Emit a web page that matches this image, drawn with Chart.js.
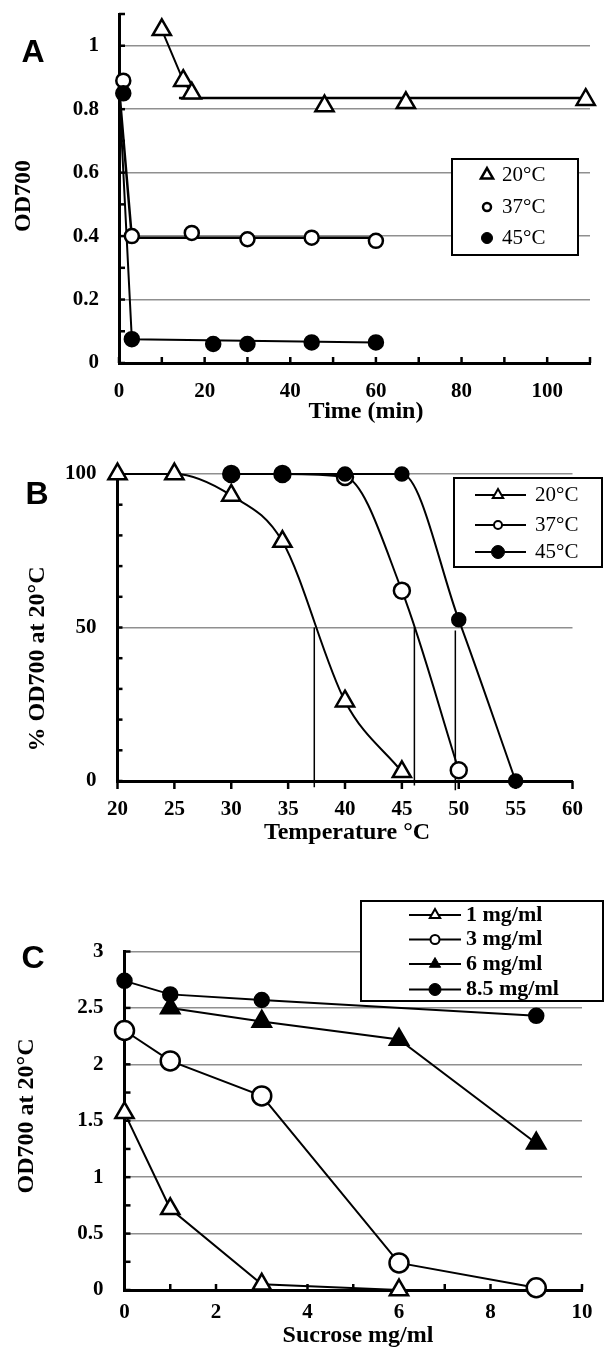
<!DOCTYPE html>
<html>
<head>
<meta charset="utf-8">
<script src="https://cdn.jsdelivr.net/npm/chart.js@4.4.1/dist/chart.umd.min.js"></script>
<style>
  html, body { margin: 0; padding: 0; background: #fff; }
  #page { position: relative; width: 604px; height: 1357px; overflow: hidden; }
  canvas { position: absolute; left: 0; }
</style>
</head>
<body>
<div id="page">
  <canvas id="chartA" width="604" height="430" style="top:0px"></canvas>
  <canvas id="chartB" width="604" height="440" style="top:430px"></canvas>
  <canvas id="chartC" width="604" height="487" style="top:870px"></canvas>
</div>
<script>
// ---------- Panel A: OD700 vs time ----------
const timeA20 = [10, 15, 17, 48, 67, 109];
const odA20 = [1.05, 0.89, 0.85, 0.81, 0.82, 0.83];
const timeA37 = [1, 3, 17, 30, 45, 60];
const odA37 = [0.89, 0.40, 0.41, 0.39, 0.395, 0.385];
const timeA45 = [1, 3, 22, 30, 45, 60];
const odA45 = [0.85, 0.075, 0.06, 0.06, 0.065, 0.065];
// hand drawn guide lines
const fitA20X = [14, 110];
const fitA20Y = [0.835, 0.835];
const fitA37X = [0, 3, 60];
const fitA37Y = [0.87, 0.395, 0.395];
const fitA45X = [0, 3, 60];
const fitA45Y = [0.87, 0.075, 0.065];
const xTicksA = [0, 20, 40, 60, 80, 100];
const xLabelsA = ['0', '20', '40', '60', '80', '100'];
const yTicksA = [0, 0.2, 0.4, 0.6, 0.8, 1];
const yLabelsA = ['0', '0.2', '0.4', '0.6', '0.8', '1'];
const legendA = ['20°C', '37°C', '45°C'];

// ---------- Panel B: % OD700 vs temperature ----------
const tempB20 = [20, 25, 30, 34.5, 40, 45];
const pctB20 = [100, 100, 93, 78, 26, 3];
const tempB37 = [30, 34.5, 40, 45, 50];
const pctB37 = [100, 100, 99, 62, 3.5];
const tempB45 = [30, 34.5, 40, 45, 50, 55];
const pctB45 = [100, 100, 100, 100, 52.5, 0];
// temperatures where each curve crosses 50 %
const halfTempB = [37.3, 46.1, 49.7];
const halfTopB = [50, 50, 49];
const halfBottomB = [-2, -1.5, -3];
const xTicksB = [20, 25, 30, 35, 40, 45, 50, 55, 60];
const xLabelsB = ['20', '25', '30', '35', '40', '45', '50', '55', '60'];
const yTicksB = [0, 50, 100];
const yLabelsB = ['0', '50', '100'];
const legendB = ['20°C', '37°C', '45°C'];

// ---------- Panel C: OD700 vs sucrose ----------
const sucroseC = [0, 1, 3, 6, 9];
const odC1 = [1.57, 0.72, 0.05, 0.0, null];
const odC3 = [2.30, 2.03, 1.72, 0.24, 0.02];
const odC6 = [null, 2.50, 2.38, 2.22, 1.30];
const odC85 = [2.74, 2.62, 2.57, null, 2.43];
const xTicksC = [0, 2, 4, 6, 8, 10];
const xLabelsC = ['0', '2', '4', '6', '8', '10'];
const yTicksC = [0, 0.5, 1, 1.5, 2, 2.5, 3];
const yLabelsC = ['0', '0.5', '1', '1.5', '2', '2.5', '3'];
const legendC = ['1 mg/ml', '3 mg/ml', '6 mg/ml', '8.5 mg/ml'];

const SERIF = "'Liberation Serif', 'Times New Roman', serif";
const SANS = "'Liberation Sans', Arial, sans-serif";
const GRID = '#8f8f8f';
const tickFont = { family: SERIF, size: 21, weight: 'bold' };

const pts = (xs, ys) => xs.map((x, i) => ({ x: x, y: ys[i] })).filter(p => p.y !== null);

function markers(xs, ys, style, radius, filled) {
    return {
        data: pts(xs, ys),
        showLine: false,
        pointStyle: style,
        pointRadius: radius,
        pointHoverRadius: radius,
        pointBackgroundColor: filled ? '#000' : '#fff',
        pointBorderColor: '#000',
        pointBorderWidth: 2.5,
        clip: false
    };
}

function line(xs, ys, width) {
    return {
        data: pts(xs, ys),
        showLine: true,
        borderColor: '#000',
        borderWidth: width,
        pointRadius: 0,
        clip: false
    };
}

// small tick marks along the axes
const tickMarks = {
    id: 'tickMarks',
    beforeDatasetsDraw(chart, args, opts) {
        const ctx = chart.ctx;
        const area = chart.chartArea;
        ctx.save();
        ctx.strokeStyle = '#000';
        ctx.lineWidth = 2.5;
        ['x', 'y'].forEach(key => {
            const o = opts[key];
            if (!o) return;
            const s = chart.scales[key];
            const n = Math.round((s.max - s.min) / o.step);
            for (let i = 0; i <= n; i++) {
                const p = s.getPixelForValue(s.min + i * o.step);
                ctx.beginPath();
                if (key === 'x') {
                    ctx.moveTo(p, area.bottom);
                    ctx.lineTo(p, area.bottom + o.dir * o.len);
                } else {
                    ctx.moveTo(area.left, p);
                    ctx.lineTo(area.left + o.dir * o.len, p);
                }
                ctx.stroke();
            }
        });
        ctx.restore();
    }
};

// boxed legend like the original figure
const boxLegend = {
    id: 'boxLegend',
    afterDraw(chart, args, o) {
        if (!o.items) return;
        const ctx = chart.ctx;
        const [l, t, r, b] = o.box;
        ctx.save();
        ctx.fillStyle = '#fff';
        ctx.fillRect(l, t, r - l, b - t);
        ctx.strokeStyle = '#000';
        ctx.lineWidth = 2;
        ctx.strokeRect(l, t, r - l, b - t);
        o.items.forEach((it, i) => {
            const y = o.rows[i];
            if (o.line) {
                ctx.lineWidth = 2;
                ctx.beginPath();
                ctx.moveTo(o.line[0], y);
                ctx.lineTo(o.line[1], y);
                ctx.stroke();
            }
            ctx.fillStyle = it.filled ? '#000' : '#fff';
            ctx.lineWidth = it.border;
            Chart.helpers.drawPoint(ctx, { pointStyle: it.style, radius: it.radius, borderWidth: it.border, rotation: 0 }, o.markerX, y);
            ctx.fillStyle = '#000';
            ctx.font = o.font;
            ctx.textAlign = 'left';
            ctx.textBaseline = 'middle';
            ctx.fillText(it.label, o.textX, y);
        });
        ctx.restore();
    }
};

// panel letters and axis titles
const freeText = {
    id: 'freeText',
    afterDraw(chart, args, o) {
        if (!o.items) return;
        const ctx = chart.ctx;
        o.items.forEach(t => {
            ctx.save();
            ctx.translate(t.x, t.y);
            if (t.rotate) ctx.rotate(-Math.PI / 2);
            ctx.font = t.font;
            ctx.fillStyle = '#000';
            ctx.textAlign = 'center';
            ctx.textBaseline = 'middle';
            ctx.fillText(t.text, 0, 0);
            ctx.restore();
        });
    }
};

Chart.register(tickMarks, boxLegend, freeText);

// no label overhang padding: the chart area is pinned by layout.padding + axis sizes
function noPad(s) {
    s.paddingTop = 0;
    s.paddingBottom = 0;
    s.paddingLeft = 0;
    s.paddingRight = 0;
}

function axes(cfg) {
    return {
        x: {
            type: 'linear',
            min: cfg.xMin, max: cfg.xMax,
            afterBuildTicks: s => { s.ticks = cfg.xTicks.map(v => ({ value: v })); },
            afterFit: s => { s.height = cfg.xHeight; noPad(s); },
            grid: { color: 'rgba(0,0,0,0)', drawTicks: false },
            border: { color: '#000', width: 3 },
            ticks: {
                color: '#000', font: tickFont, padding: cfg.xPad,
                autoSkip: false, maxRotation: 0,
                callback: (v, i) => cfg.xLabels[i]
            }
        },
        y: {
            type: 'linear',
            min: cfg.yMin, max: cfg.yMax,
            afterBuildTicks: s => { s.ticks = cfg.yTicks.map(v => ({ value: v })); },
            afterFit: s => { s.width = cfg.yWidth; noPad(s); },
            grid: {
                color: c => (c.tick && c.tick.value === 0) ? 'rgba(0,0,0,0)' : GRID,
                lineWidth: 1.5,
                drawTicks: false
            },
            border: { color: '#000', width: 3 },
            ticks: {
                color: '#000', font: tickFont, padding: cfg.yPad,
                callback: (v, i) => cfg.yLabels[i]
            }
        }
    };
}

const base = {
    responsive: false,
    animation: false,
    events: []
};

// ---------- Chart A ----------
new Chart(document.getElementById('chartA'), {
    type: 'scatter',
    data: {
        datasets: [
            markers(timeA45, odA45, 'circle', 7, true),
            markers(timeA37, odA37, 'circle', 7, false),
            markers(timeA20, odA20, 'triangle', 10.5, false),
            line(timeA20.slice(0, 3), odA20.slice(0, 3), 2),
            line(fitA20X, fitA20Y, 2.5),
            line(fitA37X, fitA37Y, 2.5),
            line(fitA45X, fitA45Y, 2)
        ]
    },
    options: Object.assign({}, base, {
        layout: { padding: { top: 14, right: 14, left: 0, bottom: 0 } },
        scales: axes({
            xMin: 0, xMax: 110, xTicks: xTicksA, xLabels: xLabelsA, xHeight: 67, xPad: 16,
            yMin: 0, yMax: 1.1, yTicks: yTicksA, yLabels: yLabelsA, yWidth: 119, yPad: 20
        }),
        plugins: {
            legend: { display: false },
            tooltip: { enabled: false },
            tickMarks: { x: { step: 10, len: 6, dir: -1 }, y: { step: 0.1, len: 6, dir: 1 } },
            boxLegend: {
                box: [452, 159, 578, 255],
                rows: [175, 207, 238],
                markerX: 487, textX: 502,
                font: '21px ' + SERIF,
                items: [
                    { label: legendA[0], style: 'triangle', radius: 7, border: 2.5, filled: false },
                    { label: legendA[1], style: 'circle', radius: 4, border: 2.5, filled: false },
                    { label: legendA[2], style: 'circle', radius: 5.5, border: 1, filled: true }
                ]
            },
            freeText: {
                items: [
                    { text: 'A', x: 33, y: 53, font: 'bold 32px ' + SANS },
                    { text: 'OD700', x: 24, y: 196, rotate: true, font: 'bold 24px ' + SERIF },
                    { text: 'Time (min)', x: 366, y: 412, font: 'bold 24px ' + SERIF }
                ]
            }
        }
    })
});

// ---------- Chart B ----------
const curve = (xs, ys) => Object.assign(line(xs, ys, 2), { cubicInterpolationMode: 'monotone' });
const withMarkers = (ds, style, radius, filled) => Object.assign(ds, {
    pointStyle: style,
    pointRadius: radius,
    pointHoverRadius: radius,
    pointBackgroundColor: filled ? '#000' : '#fff',
    pointBorderColor: '#000',
    pointBorderWidth: 2.5
});

new Chart(document.getElementById('chartB'), {
    type: 'scatter',
    data: {
        datasets: [
            withMarkers(curve(tempB45, pctB45), 'circle', 6.5, true),
            withMarkers(curve(tempB37, pctB37), 'circle', 8, false),
            withMarkers(curve(tempB20, pctB20), 'triangle', 10.5, false),
            line([halfTempB[0], halfTempB[0]], [halfTopB[0], halfBottomB[0]], 1.5),
            line([halfTempB[1], halfTempB[1]], [halfTopB[1], halfBottomB[1]], 1.5),
            line([halfTempB[2], halfTempB[2]], [halfTopB[2], halfBottomB[2]], 1.5)
        ]
    },
    options: Object.assign({}, base, {
        layout: { padding: { top: 44, right: 31.5, left: 0, bottom: 0 } },
        scales: axes({
            xMin: 20, xMax: 60, xTicks: xTicksB, xLabels: xLabelsB, xHeight: 89, xPad: 16,
            yMin: 0, yMax: 100, yTicks: yTicksB, yLabels: yLabelsB, yWidth: 117.5, yPad: 21
        }),
        plugins: {
            legend: { display: false },
            tooltip: { enabled: false },
            tickMarks: { x: { step: 5, len: 8, dir: 1 }, y: { step: 10, len: 5, dir: 1 } },
            boxLegend: {
                box: [454, 48, 602, 137],
                rows: [65, 95, 122],
                line: [475, 526],
                markerX: 498, textX: 535,
                font: '21px ' + SERIF,
                items: [
                    { label: legendB[0], style: 'triangle', radius: 6, border: 2, filled: false },
                    { label: legendB[1], style: 'circle', radius: 4, border: 2, filled: false },
                    { label: legendB[2], style: 'circle', radius: 6.5, border: 1, filled: true }
                ]
            },
            freeText: {
                items: [
                    { text: 'B', x: 37, y: 65, font: 'bold 32px ' + SANS },
                    { text: '% OD700 at 20°C', x: 38, y: 229, rotate: true, font: 'bold 24px ' + SERIF },
                    { text: 'Temperature °C', x: 347, y: 403, font: 'bold 24px ' + SERIF }
                ]
            }
        }
    })
});

// ---------- Chart C ----------
new Chart(document.getElementById('chartC'), {
    type: 'scatter',
    data: {
        datasets: [
            withMarkers(line(sucroseC, odC85, 2), 'circle', 7, true),
            withMarkers(line(sucroseC, odC6, 2), 'triangle', 10.5, true),
            withMarkers(line(sucroseC, odC3, 2), 'circle', 9.5, false),
            withMarkers(line(sucroseC, odC1, 2), 'triangle', 10.5, false)
        ]
    },
    options: Object.assign({}, base, {
        layout: { padding: { top: 81.5, right: 22, left: 0, bottom: 0 } },
        scales: axes({
            xMin: 0, xMax: 10, xTicks: xTicksC, xLabels: xLabelsC, xHeight: 67, xPad: 10,
            yMin: 0, yMax: 3, yTicks: yTicksC, yLabels: yLabelsC, yWidth: 124.5, yPad: 21
        }),
        plugins: {
            legend: { display: false },
            tooltip: { enabled: false },
            tickMarks: { x: { step: 1, len: 6, dir: -1 }, y: { step: 0.25, len: 6, dir: 1 } },
            boxLegend: {
                box: [361, 31, 603, 131],
                rows: [45, 69.5, 94, 119.5],
                line: [409, 461],
                markerX: 435, textX: 466,
                font: 'bold 22px ' + SERIF,
                items: [
                    { label: legendC[0], style: 'triangle', radius: 6, border: 2, filled: false },
                    { label: legendC[1], style: 'circle', radius: 4.5, border: 2, filled: false },
                    { label: legendC[2], style: 'triangle', radius: 6.5, border: 1, filled: true },
                    { label: legendC[3], style: 'circle', radius: 6, border: 1, filled: true }
                ]
            },
            freeText: {
                items: [
                    { text: 'C', x: 33, y: 89, font: 'bold 32px ' + SANS },
                    { text: 'OD700 at 20°C', x: 27, y: 246, rotate: true, font: 'bold 24px ' + SERIF },
                    { text: 'Sucrose mg/ml', x: 358, y: 466, font: 'bold 24px ' + SERIF }
                ]
            }
        }
    })
});
</script>
</body>
</html>
